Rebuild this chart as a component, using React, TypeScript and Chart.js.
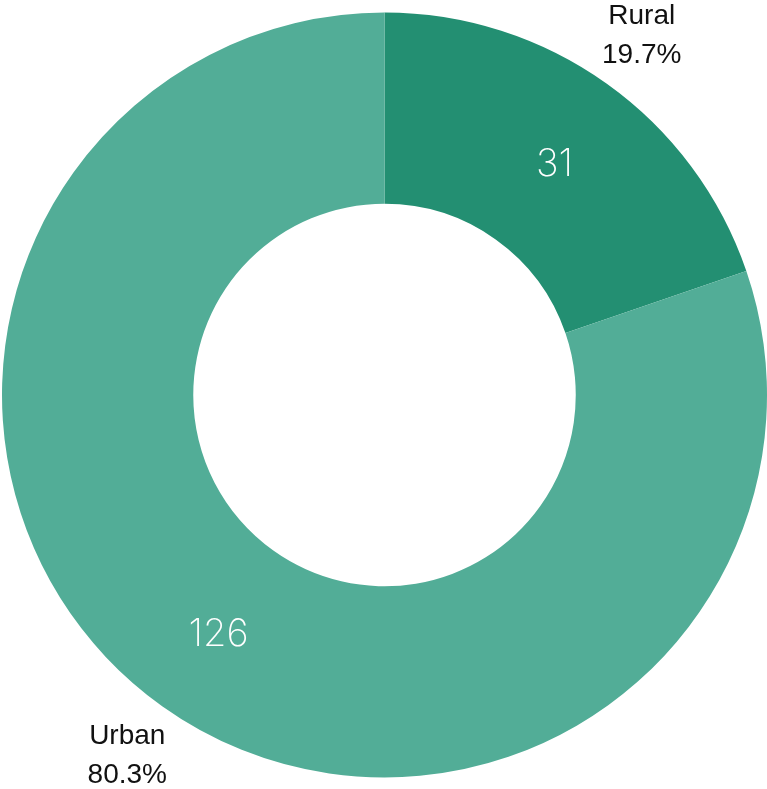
import React, { useEffect, useRef } from "react";
import { Chart, registerables } from "chart.js";

Chart.register(...registerables);

const categories = ["Rural", "Urban"];
const values = [31, 126];
const percentLabels = ["19.7%", "80.3%"];
const colors = ["#238F72", "#52AD97"];

const labelPlugin = {
  id: "sliceLabels",
  afterDatasetsDraw(chart: any) {
    const ctx = chart.ctx;
    const meta = chart.getDatasetMeta(0);
    meta.data.forEach((arc: any, i: number) => {
      const { x, y, startAngle, endAngle, innerRadius, outerRadius } = arc.getProps(
        ["x", "y", "startAngle", "endAngle", "innerRadius", "outerRadius"],
        true
      );
      const mid = (startAngle + endAngle) / 2;
      const rIn = (innerRadius + outerRadius) / 2 + 2;
      ctx.save();
      ctx.textAlign = "center";
      ctx.textBaseline = "middle";
      ctx.fillStyle = "#ffffff";
      ctx.font = "200 38px Inter, Lato, sans-serif";
      ctx.fillText(String(values[i]), x + Math.cos(mid) * rIn + 2, y + Math.sin(mid) * rIn + 5);
      const rOut = outerRadius + 60;
      const lx = x + Math.cos(mid) * rOut;
      const ly = y + Math.sin(mid) * rOut;
      ctx.fillStyle = "#111111";
      ctx.font = "28px 'Liberation Sans', Arial, sans-serif";
      ctx.fillText(categories[i], lx, ly - 19);
      ctx.fillText(percentLabels[i], lx, ly + 20);
      ctx.restore();
    });
  },
};

export default function App() {
  const ref = useRef<HTMLCanvasElement>(null);
  useEffect(() => {
    if (!ref.current) return;
    const chart = new Chart(ref.current, {
      type: "doughnut",
      data: {
        labels: categories,
        datasets: [
          {
            data: values,
            backgroundColor: colors,
            borderWidth: 0,
          },
        ],
      },
      options: {
        responsive: false,
        animation: false,
        cutout: "50%",
        layout: { padding: { top: 12, bottom: 11, left: 2, right: 0 } },
        plugins: {
          legend: { display: false },
          tooltip: { enabled: false },
        },
      },
      plugins: [labelPlugin],
    });
    return () => chart.destroy();
  }, []);
  return (
    <div style={{ position: "absolute", left: 0, top: 0, width: 767, height: 789 }}>
      <canvas ref={ref} width={767} height={789} style={{ width: 767, height: 789 }} />
    </div>
  );
}
